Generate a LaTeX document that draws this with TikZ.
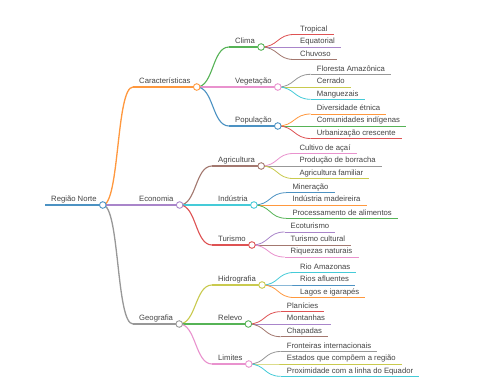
\documentclass[tikz,border=0pt]{standalone}
\usepackage{fontspec}
\setmainfont{Liberation Sans}
\definecolor{cblueb}{HTML}{1F77B4}
\definecolor{corangeb}{HTML}{FF7F0E}
\definecolor{cgreenb}{HTML}{2CA02C}
\definecolor{credb}{HTML}{D62728}
\definecolor{cpurpleb}{HTML}{9467BD}
\definecolor{cbrownb}{HTML}{8C564B}
\definecolor{cpinkb}{HTML}{E377C2}
\definecolor{cgrayb}{HTML}{7F7F7F}
\definecolor{coliveb}{HTML}{BCBD22}
\definecolor{ccyanb}{HTML}{17BECF}
\colorlet{cblue}{cblueb!80!white}
\colorlet{corange}{corangeb!80!white}
\colorlet{cgreen}{cgreenb!80!white}
\colorlet{cred}{credb!80!white}
\colorlet{cpurple}{cpurpleb!80!white}
\colorlet{cbrown}{cbrownb!80!white}
\colorlet{cpink}{cpinkb!80!white}
\colorlet{cgray}{cgrayb!80!white}
\colorlet{colive}{coliveb!80!white}
\colorlet{ccyan}{ccyanb!80!white}
\definecolor{txt}{HTML}{454545}
\newcommand\mmchild[7]{%
  \node[lbl] (#1) at (#5,#6) {#7};
  \draw[#3, line width=#4] (#2.south east) .. controls +(17,0) and +(-17,0) .. (#1.south west);
  \draw[#3, line width=#4] (#1.south west) -- (#1.south east);
}
\begin{document}
\begin{tikzpicture}[x=1pt,y=-1pt,
  lbl/.style={anchor=south west, inner xsep=6pt, inner ysep=1.3pt, text depth=1.7pt, text height=5.6pt,
    font=\fontsize{7.7}{9}\selectfont, text=txt},
  dot/.style={circle, fill=white, inner sep=0pt, minimum size=6.6pt, line width=0.9pt}]
\useasboundingbox (0,0) rectangle (480,384);
\fill[white] (0,0) rectangle (480,384);
% root
\node[lbl] (root) at (45,205) {Região Norte};
\draw[cblue, line width=1.8pt] (root.south west) -- (root.south east);
% level 1
\mmchild{car}{root}{corange}{1.3pt}{133}{87}{Características}
\mmchild{eco}{root}{cpurple}{1.3pt}{133}{205}{Economia}
\mmchild{geo}{root}{cgray}{1.3pt}{133}{324}{Geografia}
% level 2
\mmchild{cli}{car}{cgreen}{1.1pt}{229}{47}{Clima}
\mmchild{veg}{car}{cpink}{1.1pt}{229}{87}{Vegetação}
\mmchild{pop}{car}{cblue}{1.1pt}{229}{126}{População}
\mmchild{agr}{eco}{cbrown}{1.1pt}{212}{166}{Agricultura}
\mmchild{ind}{eco}{ccyan}{1.1pt}{212}{205}{Indústria}
\mmchild{tur}{eco}{cred}{1.1pt}{212}{245}{Turismo}
\mmchild{hid}{geo}{colive}{1.1pt}{212}{285}{Hidrografia}
\mmchild{rel}{geo}{cgreen}{1.1pt}{212}{324}{Relevo}
\mmchild{lim}{geo}{cpink}{1.1pt}{212}{364}{Limites}
% leaves
\mmchild{l1}{cli}{cred}{0.8pt}{294}{34.5}{Tropical}
\mmchild{l2}{cli}{cpurple}{0.8pt}{294}{47}{Equatorial}
\mmchild{l3}{cli}{cbrown}{0.8pt}{294}{59.5}{Chuvoso}
\mmchild{l4}{veg}{cgray}{0.8pt}{310.7}{74.3}{Floresta Amazônica}
\mmchild{l5}{veg}{colive}{0.8pt}{310.7}{87}{Cerrado}
\mmchild{l6}{veg}{ccyan}{0.8pt}{310.7}{99.3}{Manguezais}
\mmchild{l7}{pop}{corange}{0.8pt}{310.7}{114}{Diversidade étnica}
\mmchild{l8}{pop}{cgreen}{0.8pt}{310.7}{126}{Comunidades indígenas}
\mmchild{l9}{pop}{cred}{0.8pt}{310.7}{138.5}{Urbanização crescente}
\mmchild{l10}{agr}{cpink}{0.8pt}{293.3}{153.5}{Cultivo de açaí}
\mmchild{l11}{agr}{cgray}{0.8pt}{293.3}{166}{Produção de borracha}
\mmchild{l12}{agr}{colive}{0.8pt}{293.3}{178.5}{Agricultura familiar}
\mmchild{l13}{ind}{cblue}{0.8pt}{286.3}{192.7}{Mineração}
\mmchild{l14}{ind}{corange}{0.8pt}{286.3}{205}{Indústria madeireira}
\mmchild{l15}{ind}{cgreen}{0.8pt}{286.3}{218.3}{Processamento de alimentos}
\mmchild{l16}{tur}{cpurple}{0.8pt}{284.5}{232}{Ecoturismo}
\mmchild{l17}{tur}{cbrown}{0.8pt}{284.5}{245}{Turismo cultural}
\mmchild{l18}{tur}{cpink}{0.8pt}{284.5}{257}{Riquezas naturais}
\mmchild{l19}{hid}{ccyan}{0.8pt}{294}{272.5}{Rio Amazonas}
\mmchild{l20}{hid}{cblue}{0.8pt}{294}{285}{Rios afluentes}
\mmchild{l21}{hid}{corange}{0.8pt}{294}{297.5}{Lagos e igarapés}
\mmchild{l22}{rel}{cred}{0.8pt}{280.7}{311.7}{Planícies}
\mmchild{l23}{rel}{cpurple}{0.8pt}{280.7}{324}{Montanhas}
\mmchild{l24}{rel}{cbrown}{0.8pt}{280.7}{336.7}{Chapadas}
\mmchild{l25}{lim}{cgray}{0.8pt}{280.7}{351.5}{Fronteiras internacionais}
\mmchild{l26}{lim}{colive}{0.8pt}{280.7}{364}{Estados que compõem a região}
\mmchild{l27}{lim}{ccyan}{0.8pt}{280.7}{376.3}{Proximidade com a linha do Equador}
% circles
\node[dot, draw=cblue] (root-c) at (root.south east) {};
\node[dot, draw=corange] (car-c) at (car.south east) {};
\node[dot, draw=cpurple] (eco-c) at (eco.south east) {};
\node[dot, draw=cgray] (geo-c) at (geo.south east) {};
\node[dot, draw=cgreen] (cli-c) at (cli.south east) {};
\node[dot, draw=cpink] (veg-c) at (veg.south east) {};
\node[dot, draw=cblue] (pop-c) at (pop.south east) {};
\node[dot, draw=cbrown] (agr-c) at (agr.south east) {};
\node[dot, draw=ccyan] (ind-c) at (ind.south east) {};
\node[dot, draw=cred] (tur-c) at (tur.south east) {};
\node[dot, draw=colive] (hid-c) at (hid.south east) {};
\node[dot, draw=cgreen] (rel-c) at (rel.south east) {};
\node[dot, draw=cpink] (lim-c) at (lim.south east) {};
\end{tikzpicture}
\end{document}
